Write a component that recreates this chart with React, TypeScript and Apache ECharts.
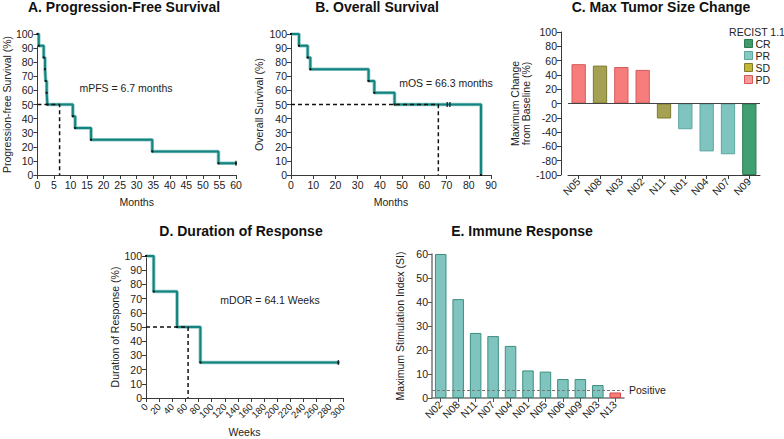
import React, { useEffect, useRef } from "react";
import * as echarts from "echarts";

// ---------- Data ----------
// A. Progression-free survival (months, %)
const pfsTimes = [0, 0.4, 1.9, 2.3, 2.5, 2.8, 3.0, 10.7, 11.4, 16.2, 34.7, 54.7, 60];
const pfsSurv = [100, 91.7, 83.3, 75, 66.7, 58.3, 50, 41.7, 33.3, 25, 16.7, 8.3, 8.3];
const pfsCensorTimes = [60];
const pfsCensorSurv = [8.3];
const pfsMedian = 6.7;

// B. Overall survival (months, %)
const osTimes = [0, 3.6, 7.5, 8.7, 34.9, 37.5, 46.6, 85.5];
const osSurv = [100, 91.7, 83.3, 75, 66.7, 58.3, 50, 0];
const osCensorTimes = [70.3, 71.5];
const osCensorSurv = [50, 50];
const osMedian = 66.3;

// C. Max tumor size change
const tumorPatients = ["N05", "N08", "N03", "N02", "N11", "N01", "N04", "N07", "N09"];
const tumorChange = [55, 53, 51, 47, -21, -36, -67, -71, -100];
const tumorResponse = ["PD", "SD", "PD", "PD", "SD", "PR", "PR", "PR", "CR"];
const responseKinds = ["CR", "PR", "SD", "PD"];

// D. Duration of response (weeks, %)
const dorTimes = [0, 11.7, 47.3, 82.8, 293];
const dorSurv = [100, 75, 50, 25, 25];
const dorCensorTimes = [293];
const dorCensorSurv = [25];
const dorMedian = 64.1;
const dorWeekTickLabels = [
  "0", "20", "40", "60", "80", "100", "120", "140", "160",
  "180", "200", "220", "240", "260", "280", "300",
];

// E. Immune response
const immunePatients = ["N02", "N08", "N11", "N07", "N04", "N01", "N05", "N06", "N09", "N03", "N13"];
const immuneSI = [60, 41.2, 27.1, 25.8, 21.7, 11.5, 11.0, 7.9, 7.9, 5.4, 2.3];
const positiveThreshold = 3.2;

// ---------- Styles ----------
const FONT = "Liberation Sans, Arial, Helvetica, sans-serif";
const AXIS_COLOR = "#3a3a3a";
const TEXT_COLOR = "#222";
const KM_DARK = "#15837f";
const KM_LIGHT = "#8fcbc6";

const responseFill: Record<string, string> = {
  CR: "#41a072",
  PR: "#80c4c0",
  SD: "#a5a152",
  PD: "#f77d7d",
};
const responseBorder: Record<string, string> = {
  CR: "#2b7a52",
  PR: "#5aa7a0",
  SD: "#7e7a2e",
  PD: "#d45a5a",
};
const legendFill: Record<string, string> = {
  CR: "#3f9a6c",
  PR: "#86c9c3",
  SD: "#c2b733",
  PD: "#f99a9a",
};

const zip = (xs: number[], ys: number[]) => xs.map((x, i) => [x, ys[i]]);

function valueAxis(grid: number, min: number, max: number, interval: number, extra: any = {}) {
  return {
    type: "value",
    gridIndex: grid,
    min,
    max,
    interval,
    splitLine: { show: false },
    axisLine: { show: true, onZero: false, lineStyle: { color: AXIS_COLOR, width: 1 } },
    axisTick: { show: true, length: 4, lineStyle: { color: AXIS_COLOR } },
    axisLabel: {
      color: TEXT_COLOR,
      fontSize: 10.5,
      fontFamily: FONT,
      margin: 4,
      showMinLabel: true,
      showMaxLabel: true,
    },
    nameTextStyle: { color: TEXT_COLOR, fontSize: 10.5, fontFamily: FONT },
    ...extra,
  };
}

function kmSeries(grid: number, times: number[], surv: number[], cTimes: number[], cSurv: number[], median: number) {
  const data = zip(times, surv);
  return [
    {
      type: "line",
      xAxisIndex: grid,
      yAxisIndex: grid,
      step: "end",
      data,
      showSymbol: false,
      lineStyle: { color: KM_LIGHT, width: 3.6 },
      z: 2,
    },
    {
      type: "line",
      xAxisIndex: grid,
      yAxisIndex: grid,
      step: "end",
      data,
      symbol: "rect",
      symbolSize: 2,
      itemStyle: { color: "#111" },
      lineStyle: { color: KM_DARK, width: 2 },
      z: 3,
    },
    {
      type: "scatter",
      xAxisIndex: grid,
      yAxisIndex: grid,
      data: zip(cTimes, cSurv),
      symbol: "rect",
      symbolSize: [1.5, 5],
      itemStyle: { color: "#111" },
      z: 4,
    },
    {
      type: "line",
      xAxisIndex: grid,
      yAxisIndex: grid,
      data: [
        [0, 50],
        [median, 50],
        [median, 0],
      ],
      showSymbol: false,
      lineStyle: { color: "#111", width: 1.5, type: [4, 3] },
      z: 5,
    },
  ];
}

function titleText(x: number, y: number, text: string) {
  return {
    type: "text",
    x,
    y,
    style: {
      text,
      fontSize: 14,
      fontWeight: "bold",
      fontFamily: FONT,
      fill: "#111",
      align: "center",
      verticalAlign: "middle",
    },
  };
}

function noteText(x: number, y: number, text: string) {
  return {
    type: "text",
    x,
    y,
    style: {
      text,
      fontSize: 10.5,
      fontFamily: FONT,
      fill: TEXT_COLOR,
      align: "center",
      verticalAlign: "middle",
    },
  };
}

const rotatedLabel = (size: number) => ({
  color: TEXT_COLOR,
  fontSize: size,
  fontFamily: FONT,
  rotate: 45,
  margin: 5,
  interval: 0,
  hideOverlap: false,
});

export default function App() {
  const ref = useRef<HTMLDivElement>(null);

  useEffect(() => {
    if (!ref.current) return;
    const chart = echarts.init(ref.current, undefined, { renderer: "svg" });

    const tumorSeries = responseKinds.map((kind) => ({
      type: "bar",
      name: kind,
      xAxisIndex: 2,
      yAxisIndex: 2,
      barGap: "-100%",
      barCategoryGap: "33%",
      data: tumorChange.map((v, i) => (tumorResponse[i] === kind ? v : null)),
      itemStyle: { color: responseFill[kind], borderColor: responseBorder[kind], borderWidth: 1 },
      z: 3,
    }));

    const option: any = {
      animation: false,
      textStyle: { fontFamily: FONT },
      grid: [
        { left: 37, top: 34, width: 199, height: 141 },
        { left: 291, top: 34, width: 200, height: 141 },
        { left: 568, top: 32, width: 192, height: 143 },
        { left: 146, top: 256, width: 197, height: 142 },
        { left: 432, top: 254, width: 192, height: 144 },
      ],
      xAxis: [
        valueAxis(0, 0, 60, 5, { name: "Months", nameLocation: "middle", nameGap: 21 }),
        valueAxis(1, 0, 90, 10, { name: "Months", nameLocation: "middle", nameGap: 21 }),
        {
          type: "category",
          gridIndex: 2,
          data: tumorPatients,
          axisLine: { show: true, onZero: false, lineStyle: { color: AXIS_COLOR } },
          axisTick: { show: true, alignWithLabel: true, length: 4, lineStyle: { color: AXIS_COLOR } },
          axisLabel: rotatedLabel(10.5),
        },
        valueAxis(3, 0, 300, 20, {
          position: "bottom",
          axisLabel: { show: false },
        }),
        {
          type: "category",
          gridIndex: 4,
          data: immunePatients,
          axisLine: { show: true, onZero: false, lineStyle: { color: "#777", width: 1.5 } },
          axisTick: { show: true, alignWithLabel: true, length: 4, lineStyle: { color: "#555" } },
          axisLabel: rotatedLabel(10.5),
        },
        // tick labels for panel D (aligned with the value axis ticks)
        {
          type: "category",
          gridIndex: 3,
          position: "bottom",
          data: dorWeekTickLabels,
          boundaryGap: false,
          axisLine: { show: false, onZero: false },
          axisTick: { show: false },
          axisLabel: { ...rotatedLabel(9.5), margin: 7 },
          name: "Weeks",
          nameLocation: "middle",
          nameGap: 28,
          nameTextStyle: { color: TEXT_COLOR, fontSize: 10.5, fontFamily: FONT },
        },
      ],
      yAxis: [
        valueAxis(0, 0, 100, 10, { name: "Progression-free Survival (%)", nameLocation: "middle", nameGap: 23 }),
        valueAxis(1, 0, 100, 10, { name: "Overall Survival (%)", nameLocation: "middle", nameGap: 27 }),
        valueAxis(2, -100, 100, 20, {
          name: "Maximum Change\nfrom Baseline (%)",
          nameLocation: "middle",
          nameGap: 26,
          offset: 7,
          nameTextStyle: { color: TEXT_COLOR, fontSize: 10.5, fontFamily: FONT, lineHeight: 11.5 },
        }),
        valueAxis(3, 0, 100, 10, { name: "Duration of Response (%)", nameLocation: "middle", nameGap: 26 }),
        valueAxis(4, 0, 60, 10, {
          name: "Maximum Stimulation Index (SI)",
          nameLocation: "middle",
          nameGap: 27,
          axisLine: { show: true, onZero: false, lineStyle: { color: "#777", width: 1.5 } },
          axisTick: { show: true, length: 4, lineStyle: { color: "#555" } },
        }),
      ],
      legend: {
        orient: "vertical",
        left: 744,
        top: 38,
        padding: 0,
        itemWidth: 8,
        itemHeight: 8,
        itemGap: 1,
        icon: "rect",
        textStyle: { color: TEXT_COLOR, fontSize: 10.5, fontFamily: FONT, padding: [0, 0, 0, -2] },
        data: responseKinds.map((k) => ({
          name: k,
          itemStyle: { color: legendFill[k], borderColor: responseBorder[k], borderWidth: 1 },
        })),
      },
      graphic: [
        titleText(124, 7, "A. Progression-Free Survival"),
        titleText(377, 7, "B. Overall Survival"),
        titleText(661, 7, "C. Max Tumor Size Change"),
        titleText(241, 231, "D. Duration of Response"),
        titleText(522, 231, "E. Immune Response"),
        noteText(126, 88, "mPFS = 6.7 months"),
        noteText(446, 83, "mOS = 66.3 months"),
        noteText(270, 300, "mDOR = 64.1 Weeks"),
        {
          type: "text",
          x: 757,
          y: 32,
          style: {
            text: "RECIST 1.1",
            fontSize: 10.5,
            fontFamily: FONT,
            fill: TEXT_COLOR,
            align: "center",
            verticalAlign: "middle",
          },
        },
      ],
      series: [
        ...kmSeries(0, pfsTimes, pfsSurv, pfsCensorTimes, pfsCensorSurv, pfsMedian),
        ...kmSeries(1, osTimes, osSurv, osCensorTimes, osCensorSurv, osMedian),
        ...tumorSeries,
        {
          type: "line",
          xAxisIndex: 2,
          yAxisIndex: 2,
          data: [],
          markLine: {
            silent: true,
            symbol: "none",
            label: { show: false },
            lineStyle: { color: "#444", type: "solid", width: 1 },
            data: [{ yAxis: 0 }],
          },
        },
        ...kmSeries(3, dorTimes, dorSurv, dorCensorTimes, dorCensorSurv, dorMedian),
        {
          type: "bar",
          xAxisIndex: 4,
          yAxisIndex: 4,
          barCategoryGap: "34%",
          data: immuneSI.map((v) => ({
            value: v,
            itemStyle:
              v < positiveThreshold
                ? { color: "#f77d7d", borderColor: "#d04848", borderWidth: 1 }
                : { color: "#80c4c0", borderColor: "#3d8f80", borderWidth: 1 },
          })),
          markLine: {
            silent: true,
            symbol: "none",
            lineStyle: { color: "#777", type: [3, 2], width: 1 },
            label: {
              show: true,
              position: "end",
              formatter: "Positive",
              color: TEXT_COLOR,
              fontSize: 10.5,
              fontFamily: FONT,
              distance: 5,
            },
            data: [{ yAxis: positiveThreshold }],
          },
          z: 3,
        },
      ],
    };

    chart.setOption(option);
    return () => chart.dispose();
  }, []);

  return (
    <div
      ref={ref}
      style={{ position: "fixed", left: 0, top: 0, width: 784, height: 439, background: "#fff" }}
    />
  );
}
